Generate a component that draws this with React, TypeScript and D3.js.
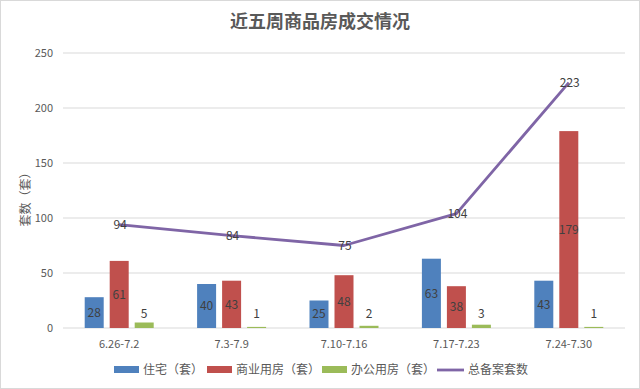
import React from "react";
import * as d3 from "d3";

const weeks = ["6.26-7.2", "7.3-7.9", "7.10-7.16", "7.17-7.23", "7.24-7.30"];
const residential = [28, 40, 25, 63, 43];
const commercial = [61, 43, 48, 38, 179];
const office = [5, 1, 2, 3, 1];
const totalFiled = [94, 84, 75, 104, 223];
const yTicks = [0, 50, 100, 150, 200, 250];

const barSeries = [
  { name: "住宅（套）", values: residential, color: "#4F81BD", labelInside: true },
  { name: "商业用房（套）", values: commercial, color: "#C0504D", labelInside: true },
  { name: "办公用房（套）", values: office, color: "#9BBB59", labelInside: false },
];
const lineName = "总备案套数";
const lineColor = "#7F65A6";

const W = 640;
const H = 389;
const margin = { top: 53, right: 15, bottom: 61, left: 63 };
const font = "'Microsoft YaHei', 'Noto Sans CJK SC', sans-serif";

export default function App() {
  const innerW = W - margin.left - margin.right;
  const innerH = H - margin.top - margin.bottom;

  const x = d3.scaleBand<string>().domain(weeks).range([0, innerW]);
  const sub = d3
    .scaleBand<number>()
    .domain([0, 1, 2])
    .range([x.bandwidth() / 2 - 34.5, x.bandwidth() / 2 + 34.5])
    .paddingInner(0.24);
  const y = d3.scaleLinear().domain([0, 250]).range([innerH, 0]);

  const line = d3
    .line<number>()
    .x((_, i) => (x(weeks[i]) || 0) + x.bandwidth() / 2)
    .y((d) => y(d));

  const legendItems = [
    { x: 114, w: 25, label: barSeries[0].name, color: barSeries[0].color },
    { x: 207, w: 25, label: barSeries[1].name, color: barSeries[1].color },
    { x: 322, w: 25, label: barSeries[2].name, color: barSeries[2].color },
  ];

  return (
    <svg width={W} height={H} style={{ position: "absolute", left: 0, top: 0, fontFamily: font }}>
      <rect x={0.5} y={0.5} width={W - 1} height={H - 1} fill="#fff" stroke="#d9d9d9" />
      <text x={W / 2} y={28} textAnchor="middle" fontSize={18} fontWeight="bold" fill="#595959">
        近五周商品房成交情况
      </text>

      <text
        transform={`translate(30,${margin.top + innerH / 2 + 6}) rotate(-90)`}
        textAnchor="middle"
        fontSize={12}
        fill="#595959"
      >
        套数（套）
      </text>

      <g transform={`translate(${margin.left},${margin.top})`}>
        {yTicks.map((t) => (
          <g key={t}>
            <line x1={0} x2={innerW} y1={y(t)} y2={y(t)} stroke="#d9d9d9" strokeWidth={1} />
            <text x={-10} y={y(t)} dy="0.35em" textAnchor="end" fontSize={11} fill="#595959">
              {t}
            </text>
          </g>
        ))}

        {weeks.map((w) => (
          <text
            key={w}
            x={(x(w) || 0) + x.bandwidth() / 2}
            y={innerH + 20}
            textAnchor="middle"
            fontSize={11}
            fill="#595959"
          >
            {w}
          </text>
        ))}

        {barSeries.map((s, si) =>
          s.values.map((v, i) => {
            const bx = (x(weeks[i]) || 0) + (sub(si) || 0);
            const by = y(v);
            const bh = innerH - by;
            const cx = bx + sub.bandwidth() / 2;
            // small office values: label sits a fixed distance over the axis
            const ly = s.labelInside ? by + bh / 2 : y(5) - 9;
            return (
              <g key={`${si}-${i}`}>
                <rect x={bx} y={by} width={sub.bandwidth()} height={bh} fill={s.color} />
                <text x={cx} y={ly} dy="0.35em" textAnchor="middle" fontSize={12} fill="#404040">
                  {v}
                </text>
              </g>
            );
          })
        )}

        <path d={line(totalFiled) || ""} fill="none" stroke={lineColor} strokeWidth={2.8} strokeLinejoin="round" />
        {totalFiled.map((v, i) => (
          <text
            key={i}
            x={(x(weeks[i]) || 0) + x.bandwidth() / 2 + 1}
            y={y(v)}
            dy="0.35em"
            textAnchor="middle"
            fontSize={12}
            fill="#404040"
          >
            {v}
          </text>
        ))}
      </g>

      <g fontSize={12} fill="#595959">
        {legendItems.map((l) => (
          <g key={l.label}>
            <rect x={l.x} y={366} width={l.w} height={7} fill={l.color} />
            <text x={l.x + l.w + 4} y={370} dy="0.35em">
              {l.label}
            </text>
          </g>
        ))}
        <line x1={437} x2={464} y1={370} y2={370} stroke={lineColor} strokeWidth={2.8} />
        <text x={468} y={370} dy="0.35em">
          {lineName}
        </text>
      </g>
    </svg>
  );
}
